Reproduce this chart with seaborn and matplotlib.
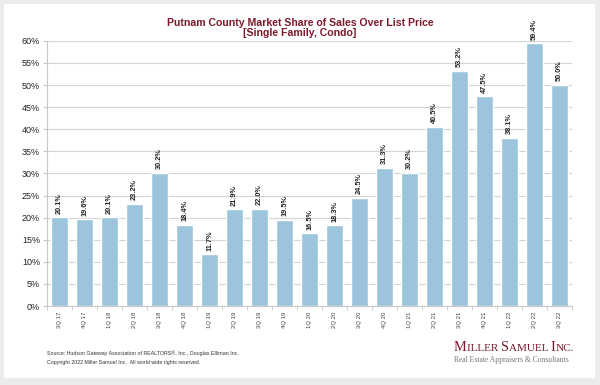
import numpy as np
import pandas as pd
import matplotlib
matplotlib.use("Agg")
import matplotlib.pyplot as plt
import seaborn as sns
from matplotlib.ticker import FuncFormatter, FixedLocator

quarters = ['3Q 17', '4Q 17', '1Q 18', '2Q 18', '3Q 18', '4Q 18', '1Q 19',
            '2Q 19', '3Q 19', '4Q 19', '1Q 20', '2Q 20', '3Q 20', '4Q 20',
            '1Q 21', '2Q 21', '3Q 21', '4Q 21', '1Q 22', '2Q 22', '3Q 22']
share = [20.1, 19.6, 20.1, 23.2, 30.2, 18.4, 11.7, 21.9, 22.0, 19.5, 16.5,
         18.3, 24.5, 31.3, 30.2, 40.5, 53.2, 47.5, 38.1, 59.4, 50.0]

title_txt = "Putnam County Market Share of Sales Over List Price\n[Single Family, Condo]"
source_txt = "Source: Hudson Gateway Association of REALTORS®, Inc., Douglas Elliman Inc."
copy_txt = "Copyright 2022 Miller Samuel Inc.  All world wide rights reserved."
logo_parts = [("M", True), ("ILLER ", False), ("S", True), ("AMUEL ", False),
              ("I", True), ("NC.", False)]
tagline = "Real Estate Appraisers & Consultants"

df = pd.DataFrame({'quarter': quarters, 'share': share})

sns.set_theme(style="white")
plt.rcParams['font.family'] = ['Liberation Sans', 'DejaVu Sans']
serif = ['Liberation Serif', 'DejaVu Serif']

fig = plt.figure(figsize=(6, 3.85), dpi=100, facecolor='#ececec')
# white panel
panel = fig.add_axes([0.007, 0.018, 0.985, 0.972])
panel.set_facecolor('white')
panel.set_xticks([]); panel.set_yticks([])
for s in panel.spines.values():
    s.set_visible(False)

ax = fig.add_axes([0.0785, 0.205, 0.875, 0.689])
sns.barplot(data=df, x='quarter', y='share', color='#9cc4dc', saturation=1,
            width=0.7, ax=ax, zorder=3)
ax.set_xlim(-0.5, len(quarters) - 0.5)
ax.set_ylim(0, 60)
ax.set_yticks(range(0, 61, 5))
ax.yaxis.set_major_formatter(FuncFormatter(lambda v, p: f"{int(v)}%"))
ax.grid(axis='y', color='#d4d4d4', linewidth=0.8, zorder=0)
ax.set_xlabel('')
ax.set_ylabel('')
for side in ['top', 'right']:
    ax.spines[side].set_visible(False)
ax.spines['left'].set_color('#c8c8c8')
ax.spines['bottom'].set_color('#c8c8c8')
ax.spines['left'].set_linewidth(0.8)
ax.spines['bottom'].set_linewidth(0.8)

ax.tick_params(axis='y', labelsize=6.5, colors='#c8c8c8', labelcolor='#222222',
               length=3, width=0.8, left=True, pad=2)
ax.set_xticks(range(len(quarters)))
ax.set_xticklabels(quarters, rotation=90, fontsize=4.3, color='#444444')
ax.tick_params(axis='x', length=0, pad=4)
ax.xaxis.set_minor_locator(FixedLocator(np.arange(-0.5, len(quarters), 1)))
ax.tick_params(axis='x', which='minor', bottom=True, length=3, width=0.6,
               color='#c8c8c8')

for i, v in enumerate(share):
    ax.text(i, v + 0.8, f"{v:.1f}%", rotation=90, ha='center', va='bottom',
            fontsize=5.3, fontweight='bold', color='#222222', zorder=4)

fig.text(0.5, 0.9, title_txt, ha='center', va='bottom', fontsize=7.6,
         fontweight='bold', color='#7c1a2c', linespacing=1.05)

fig.text(0.079, 0.082, source_txt, fontsize=3.8, color='#333333', va='center')
fig.text(0.079, 0.058, copy_txt, fontsize=3.8, color='#333333', va='center')

# small-caps logo, laid out piece by piece
renderer = fig.canvas.get_renderer()
x_px = 454.0
for part, big in logo_parts:
    t = fig.text(x_px / 600, 0.088, part, ha='left', va='baseline',
                 fontsize=10.4 if big else 8.0, color='#7c1a2c', family=serif)
    x_px += t.get_window_extent(renderer).width
fig.text(454 / 600, 0.065, tagline, ha='left', va='center', fontsize=5.5,
         color='#777777', family=serif)

fig.savefig('out.png', dpi=100, facecolor=fig.get_facecolor())
